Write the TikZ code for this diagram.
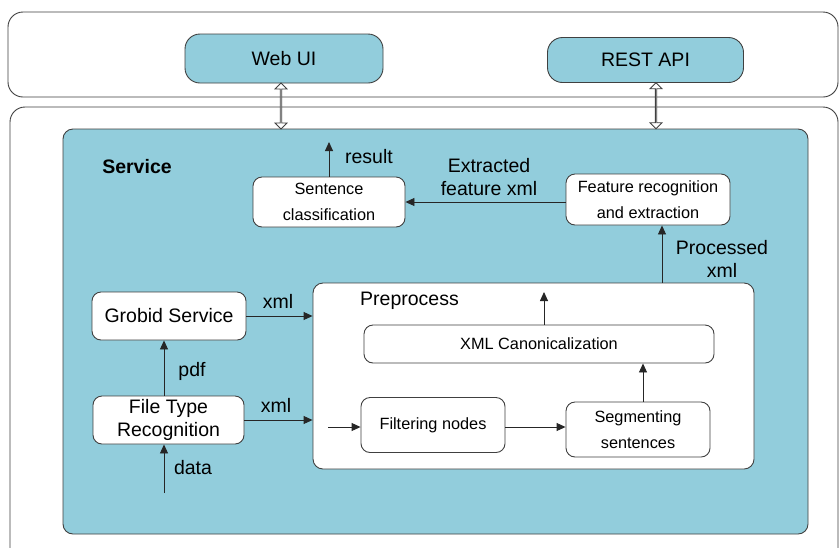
\documentclass[tikz,border=0pt]{standalone}
\usepackage{fontspec}
\setmainfont{Liberation Sans}
\usepackage{tikz}
\usetikzlibrary{arrows.meta,shapes.arrows,positioning}
\definecolor{boxblue}{HTML}{92CDDC}
\definecolor{linegray}{HTML}{404040}
\newcommand{\lblfont}{\fontsize{19.5}{23}\selectfont}
\newcommand{\boxfont}{\fontsize{16.3}{25.5}\selectfont}
\tikzset
{
    layerbox/.style = {draw=linegray, line width=0.9pt, rounded corners=15pt},
    uibox/.style    = {rectangle, draw=linegray, line width=0.9pt, fill=boxblue, rounded corners=15pt, align=center, font=\lblfont, inner sep=0pt},
    groupbox/.style = {rectangle, draw=linegray, line width=0.9pt, rounded corners=10pt, inner sep=0pt},
    stepbox/.style  = {rectangle, draw=linegray, line width=0.9pt, fill=white, rounded corners=9pt, align=center, inner sep=0pt},
    flow/.style     = {draw=black!85, line width=0.9pt, -{Triangle[length=9pt,width=8pt]}},
    lbl/.style      = {align=center, font=\lblfont, inner sep=0pt},
    dblarrow/.style = {double arrow, draw=linegray, line width=0.8pt, fill=white, rotate=90, inner sep=0pt, minimum height=46pt, minimum width=12pt, double arrow head extend=3.25pt, double arrow head indent=0pt}
}

\begin{document}
\begin{tikzpicture}[x=1pt, y=-1pt]
\useasboundingbox (0,0) rectangle (840,547);
\clip (0,0) rectangle (840,547);
\fill[white] (0,0) rectangle (840,547);

% the two layers
\draw[layerbox] (8,12) rectangle (838,97);
\draw[layerbox] (10,107) rectangle (838,565);

% clients
\node[uibox, minimum width=198pt, minimum height=49pt] (webui) at (284,58.5) {Web UI};
\node[uibox, minimum width=196pt, minimum height=45pt] (restapi) at (645.5,60) {REST API};

% service
\node[groupbox, fill=boxblue, minimum width=745pt, minimum height=405pt] (service) at (435.5,331.5) {};
\node[lbl, font=\lblfont\bfseries] (servicelbl) at (137,167) {Service};

\coordinate (uiport) at (281,0);
\coordinate (apiport) at (656,0);
\path (uiport |- webui.south) -- (uiport |- service.north) node[midway, dblarrow] {};
\path (apiport |- restapi.south) -- (apiport |- service.north) node[midway, dblarrow] {};

\node[stepbox, font=\boxfont, minimum width=152pt, minimum height=50pt] (sentcls) at (329,202) {Sentence\\classification};
\node[stepbox, font=\boxfont, minimum width=164pt, minimum height=51pt] (featrec) at (648,199.5) {Feature recognition\\and extraction};
\node[stepbox, font=\lblfont, minimum width=154pt, minimum height=48pt] (grobid) at (169,316) {Grobid Service};
\node[stepbox, font=\lblfont, minimum width=151pt, minimum height=48pt] (filetype) at (168.5,420) {File Type\\Recognition};

% preprocess
\node[groupbox, fill=white, minimum width=441pt, minimum height=186pt] (preproc) at (533.5,376) {};
\node[lbl, anchor=west] (preproclbl) at (360,301) {Preprocess};
\node[stepbox, font=\boxfont, minimum width=350pt, minimum height=38pt] (xmlcanon) at (539,344) {XML Canonicalization};
\node[stepbox, font=\boxfont, minimum width=144pt, minimum height=55pt] (filter) at (433,425) {Filtering nodes};
\node[stepbox, font=\boxfont, minimum width=144pt, minimum height=55pt] (segment) at (638,429.5) {Segmenting\\sentences};

% flows
\coordinate (resultend) at (329,142);
\coordinate (dataend) at (164,493);
\coordinate (filtin) at (328,427);
\coordinate (canonout) at (544,292);
\coordinate (procx) at (662,0);
\coordinate (segx) at (643,0);

\draw[flow] (sentcls.north) -- (resultend);
\node[lbl] (resultlbl) at (369,157) {result};
\draw[flow] (featrec.west |- sentcls.east) -- (sentcls.east);
\node[lbl] (extractlbl) at (489,177) {Extracted\\feature xml};
\draw[flow] (procx |- preproc.north) -- (procx |- featrec.south);
\node[lbl] (processlbl) at (722,259) {Processed\\xml};
\draw[flow] (grobid.east) -- (grobid.east -| preproc.west);
\node[lbl] (xmllbla) at (278,301) {xml};
\draw[flow] (filetype.east) -- (filetype.east -| preproc.west);
\node[lbl] (xmllblb) at (276,405) {xml};
\draw[flow] (dataend |- filetype.north) -- (dataend |- grobid.south);
\node[lbl] (pdflbl) at (192,371) {pdf};
\draw[flow] (dataend) -- (dataend |- filetype.south);
\node[lbl] (datalbl) at (193,468) {data};
\draw[flow] (filtin) -- (filtin -| filter.west);
\draw[flow] (filter.east |- filtin) -- (segment.west |- filtin);
\draw[flow] (segx |- segment.north) -- (segx |- xmlcanon.south);
\draw[flow] (canonout |- xmlcanon.north) -- (canonout);
\end{tikzpicture}
\end{document}
